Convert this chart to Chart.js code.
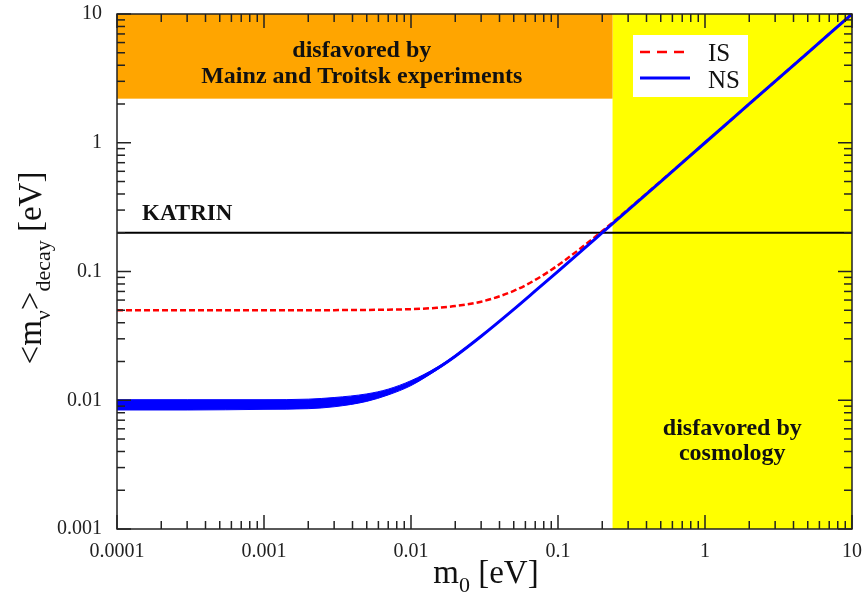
<!DOCTYPE html>
<html>
<head>
<meta charset="utf-8">
<script src="https://cdn.jsdelivr.net/npm/chart.js@4/dist/chart.umd.min.js"></script>
<style>
  body { margin: 0; background: #fff; }
  canvas { display: block; }
</style>
</head>
<body>
<canvas id="grafico" width="863" height="596"></canvas>
<script>
// lightest neutrino mass m0 [eV]
const m0 = [0.0001, 0.0003, 0.001, 0.002, 0.003, 0.005, 0.007, 0.01, 0.015, 0.02, 0.03, 0.05, 0.07, 0.1, 0.2, 0.5, 1, 2, 5, 10];
// inverted spectrum
const mIS = [0.05, 0.05, 0.05, 0.0500, 0.0501, 0.0503, 0.0505, 0.0510, 0.0522, 0.0539, 0.0583, 0.0707, 0.0860, 0.1118, 0.2062, 0.5025, 1.001, 2.0, 5.0, 10.0];
// normal spectrum (centre and band edges)
const mNS = [0.0092, 0.0092, 0.00925, 0.0094, 0.0097, 0.0105, 0.0116, 0.0136, 0.0176, 0.0220, 0.0314, 0.0508, 0.0706, 0.1004, 0.2002, 0.5, 1.0, 2.0, 5.0, 10.0];
const nsHi = [0.0101, 0.0101, 0.0101, 0.0102, 0.0105, 0.0112, 0.0122, 0.0142, 0.0180, 0.0224, 0.0318, 0.0510, 0.0707, 0.1005, 0.2003, 0.5, 1, 2, 5, 10];
const nsLo = [0.0084, 0.0084, 0.0085, 0.0086, 0.0089, 0.0098, 0.0110, 0.0130, 0.0172, 0.0216, 0.0310, 0.0506, 0.0705, 0.1003, 0.2001, 0.5, 1, 2, 5, 10];

const katrin = 0.2;
const mainzTroitsk = 2.2;
const cosmologia = 0.235;

const xTicks = [0.0001, 0.001, 0.01, 0.1, 1, 10];
const xLabels = ['0.0001', '0.001', '0.01', '0.1', '1', '10'];
const yTicks = [0.001, 0.01, 0.1, 1, 10];
const yLabels = ['0.001', '0.01', '0.1', '1', '10'];

const SERIF = '"Liberation Serif", "DejaVu Serif", serif';

const pares = (xs, ys) => xs.map((v, i) => ({ x: v, y: ys[i] }));

// shaded regions behind the curves
const regioes = {
    id: 'regioes',
    beforeDatasetsDraw(chart) {
        const { ctx, chartArea: a, scales: { x, y } } = chart;
        const xc = x.getPixelForValue(cosmologia);
        const ym = y.getPixelForValue(mainzTroitsk);
        ctx.save();
        ctx.fillStyle = '#ffff00';
        ctx.fillRect(xc, a.top, a.right - xc, a.bottom - a.top);
        ctx.fillStyle = '#ffa500';
        ctx.fillRect(a.left, a.top, xc - a.left, ym - a.top);
        ctx.restore();
    }
};

function textoRico(ctx, partes, x, y, grande, pequeno) {
    let w = 0;
    partes.forEach(p => {
        ctx.font = (p.sub ? pequeno : grande) + 'px ' + SERIF;
        p.w = ctx.measureText(p.t).width;
        w += p.w;
    });
    let cx = x - w / 2;
    ctx.textAlign = 'left';
    ctx.textBaseline = 'alphabetic';
    partes.forEach(p => {
        ctx.font = (p.sub ? pequeno : grande) + 'px ' + SERIF;
        ctx.fillText(p.t, cx, y + (p.sub ? 9 : 0));
        cx += p.w;
    });
}

// frame, inward ticks, legend, labels
const moldura = {
    id: 'moldura',
    afterDraw(chart) {
        const { ctx, chartArea: a, scales: { x, y } } = chart;
        ctx.save();
        ctx.strokeStyle = '#222';
        ctx.lineWidth = 1.5;

        const tick = (x1, y1, x2, y2) => {
            ctx.beginPath(); ctx.moveTo(x1, y1); ctx.lineTo(x2, y2); ctx.stroke();
        };
        for (let e = -4; e <= 1; e++) {
            for (let k = 1; k <= 9; k++) {
                const v = k * Math.pow(10, e);
                if (v < 0.0001 * 0.999 || v > 10.001) continue;
                const len = k === 1 ? 14 : 8;
                const px = x.getPixelForValue(v);
                tick(px, a.bottom, px, a.bottom - len);
                tick(px, a.top, px, a.top + len);
            }
        }
        for (let e = -3; e <= 1; e++) {
            for (let k = 1; k <= 9; k++) {
                const v = k * Math.pow(10, e);
                if (v < 0.001 * 0.999 || v > 10.001) continue;
                const len = k === 1 ? 14 : 8;
                const py = y.getPixelForValue(v);
                tick(a.left, py, a.left + len, py);
                tick(a.right, py, a.right - len, py);
            }
        }
        ctx.strokeRect(a.left, a.top, a.right - a.left, a.bottom - a.top);

        // legend
        const lx = a.left + 516, ly = a.top + 21;
        ctx.fillStyle = '#fff';
        ctx.fillRect(lx, ly, 115, 62);
        ctx.lineWidth = 2.5;
        ctx.strokeStyle = '#ff0000';
        ctx.setLineDash([10, 7]);
        tick(lx + 7, ly + 17, lx + 57, ly + 17);
        ctx.setLineDash([]);
        ctx.strokeStyle = '#0000ff';
        ctx.lineWidth = 3;
        tick(lx + 7, ly + 43, lx + 57, ly + 43);
        ctx.fillStyle = '#111';
        ctx.font = '25px ' + SERIF;
        ctx.textAlign = 'left';
        ctx.textBaseline = 'alphabetic';
        ctx.fillText('IS', lx + 75, ly + 26);
        ctx.fillText('NS', lx + 75, ly + 53);

        // annotations
        const xc = x.getPixelForValue(cosmologia);
        ctx.font = 'bold 24px ' + SERIF;
        ctx.textAlign = 'center';
        ctx.fillText('disfavored by', (a.left + xc) / 2 - 3, a.top + 43);
        ctx.fillText('Mainz and Troitsk experiments', (a.left + xc) / 2 - 3, a.top + 69);
        ctx.fillText('disfavored by', (xc + a.right) / 2, 435);
        ctx.fillText('cosmology', (xc + a.right) / 2, 460);
        ctx.textAlign = 'left';
        ctx.font = 'bold 23px ' + SERIF;
        ctx.fillText('KATRIN', a.left + 25, y.getPixelForValue(katrin) - 13);

        // axis titles
        ctx.fillStyle = '#111';
        textoRico(ctx, [{ t: 'm' }, { t: '0', sub: true }, { t: ' [eV]' }], 486, 583, 33, 22);
        ctx.translate(41, 268);
        ctx.rotate(-Math.PI / 2);
        textoRico(ctx, [{ t: '<m' }, { t: 'ν', sub: true }, { t: '>' }, { t: 'decay', sub: true }, { t: ' [eV]' }], 0, 0, 33, 22);
        ctx.restore();
    }
};

new Chart(document.getElementById('grafico').getContext('2d'), {
    type: 'line',
    data: {
        datasets: [
            {
                label: 'NS',
                data: pares(m0, mNS),
                borderColor: '#0000ff',
                borderWidth: 3,
                pointRadius: 0,
                cubicInterpolationMode: 'monotone',
                order: 0
            },
            {
                label: 'NS_lo',
                data: pares(m0, nsLo),
                borderColor: '#0000ff',
                borderWidth: 1,
                pointRadius: 0,
                cubicInterpolationMode: 'monotone',
                order: 1
            },
            {
                label: 'NS_hi',
                data: pares(m0, nsHi),
                borderColor: '#0000ff',
                backgroundColor: '#0000ff',
                borderWidth: 1,
                pointRadius: 0,
                fill: '-1',
                cubicInterpolationMode: 'monotone',
                order: 1
            },
            {
                label: 'IS',
                data: pares(m0, mIS),
                borderColor: '#ff0000',
                borderWidth: 2.5,
                borderDash: [6, 3],
                pointRadius: 0,
                cubicInterpolationMode: 'monotone',
                order: 2
            },
            {
                label: 'KATRIN',
                data: [{ x: 0.0001, y: katrin }, { x: 10, y: katrin }],
                borderColor: '#000',
                borderWidth: 2,
                pointRadius: 0,
                order: 3
            }
        ]
    },
    options: {
        responsive: false,
        animation: false,
        layout: { padding: { left: 0, right: 11, top: 14, bottom: 0 } },
        plugins: { legend: { display: false }, tooltip: { enabled: false } },
        scales: {
            x: {
                type: 'logarithmic',
                min: 0.0001,
                max: 10,
                grid: { display: false },
                border: { display: false },
                afterBuildTicks: s => { s.ticks = xTicks.map(v => ({ value: v })); },
                afterFit: s => { s.height = 67; s.paddingLeft = 0; s.paddingRight = 0; },
                ticks: {
                    autoSkip: false,
                    maxRotation: 0,
                    padding: 3,
                    color: '#222',
                    font: { family: SERIF, size: 20 },
                    callback: (v, i) => xLabels[i]
                }
            },
            y: {
                type: 'logarithmic',
                min: 0.001,
                max: 10,
                grid: { display: false },
                border: { display: false },
                afterBuildTicks: s => { s.ticks = yTicks.map(v => ({ value: v })); },
                afterFit: s => { s.width = 117; s.paddingTop = 0; s.paddingBottom = 0; },
                ticks: {
                    autoSkip: false,
                    padding: 7,
                    color: '#222',
                    font: { family: SERIF, size: 20 },
                    callback: (v, i) => yLabels[i]
                }
            }
        }
    },
    plugins: [regioes, moldura]
});
</script>
</body>
</html>
